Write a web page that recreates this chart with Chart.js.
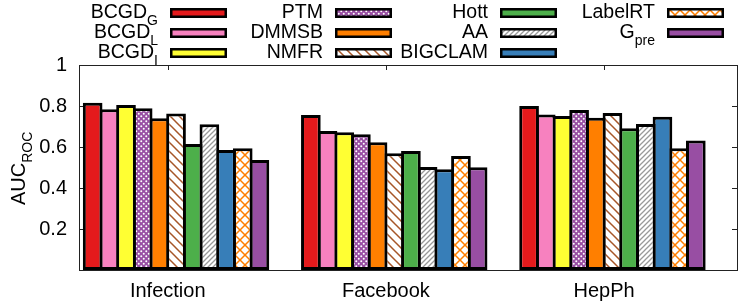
<!DOCTYPE html>
<html>
<head>
<meta charset="utf-8">
<script src="https://cdn.jsdelivr.net/npm/chart.js@4.4.0/dist/chart.umd.min.js"></script>
<style>
  html, body { margin: 0; padding: 0; background: #fff; }
</style>
</head>
<body>
<canvas id="aucChart" width="747" height="307"></canvas>
<script>
const categories = ['Infection', 'Facebook', 'HepPh'];
const seriesNames = ['BCGD_G', 'BCGD_L', 'BCGD_I', 'PTM', 'DMMSB', 'NMFR', 'Hott', 'AA', 'BIGCLAM', 'LabelRT', 'G_pre'];

const bcgdG   = [0.816, 0.756, 0.800];
const bcgdL   = [0.784, 0.678, 0.759];
const bcgdI   = [0.805, 0.672, 0.751];
const ptm     = [0.789, 0.662, 0.780];
const dmmsb   = [0.740, 0.623, 0.743];
const nmfr    = [0.764, 0.569, 0.766];
const hott    = [0.615, 0.580, 0.691];
const aa      = [0.711, 0.503, 0.712];
const bigclam = [0.585, 0.491, 0.748];
const labelRT = [0.594, 0.556, 0.594];
const gPre    = [0.537, 0.501, 0.632];

const yTicks = [0, 0.2, 0.4, 0.6, 0.8, 1];
const yTitle = 'AUC_ROC';

const FONT = '"Liberation Sans", Arial, sans-serif';

function makePattern(size, draw) {
    const c = document.createElement('canvas');
    c.width = size;
    c.height = size;
    const g = c.getContext('2d');
    draw(g, size);
    return g.createPattern(c, 'repeat');
}

function hatch(g, s, dir) {
    g.beginPath();
    if (dir === 'back') {
        g.moveTo(-1, -1); g.lineTo(s + 1, s + 1);
        g.moveTo(s - 1, -1); g.lineTo(s + 1, 1);
        g.moveTo(-1, s - 1); g.lineTo(1, s + 1);
    } else {
        g.moveTo(-1, s + 1); g.lineTo(s + 1, -1);
        g.moveTo(-1, 1); g.lineTo(1, -1);
        g.moveTo(s - 1, s + 1); g.lineTo(s + 1, s - 1);
    }
    g.stroke();
}

const ptmFill = makePattern(5, (g, s) => {
    g.fillStyle = '#984ea3';
    g.fillRect(0, 0, s, s);
    g.fillStyle = '#fff';
    g.beginPath(); g.arc(1.25, 1.25, 1.0, 0, Math.PI * 2); g.fill();
    g.beginPath(); g.arc(3.75, 3.75, 1.0, 0, Math.PI * 2); g.fill();
});
const nmfrFill = makePattern(9, (g, s) => {
    g.fillStyle = '#fff';
    g.fillRect(0, 0, s, s);
    g.strokeStyle = '#a65628';
    g.lineWidth = 1.5;
    hatch(g, s, 'back');
});
const aaFill = makePattern(5, (g, s) => {
    g.fillStyle = '#fff';
    g.fillRect(0, 0, s, s);
    g.strokeStyle = '#999999';
    g.lineWidth = 1.3;
    hatch(g, s, 'fwd');
});
const labelFill = makePattern(10, (g, s) => {
    g.fillStyle = '#fff';
    g.fillRect(0, 0, s, s);
    g.strokeStyle = '#ff7f00';
    g.lineWidth = 1.5;
    hatch(g, s, 'back');
    hatch(g, s, 'fwd');
});

const seriesValues = [bcgdG, bcgdL, bcgdI, ptm, dmmsb, nmfr, hott, aa, bigclam, labelRT, gPre];
const seriesFills = ['#e41a1c', '#f781bf', '#ffff33', ptmFill, '#ff7f00', nmfrFill,
                     '#4daf4a', aaFill, '#377eb8', labelFill, '#984ea3'];

// empty first slot so the category tick sits half a bar left of the group, as in gnuplot
const datasets = [{
    label: '',
    data: categories.map((c, i) => ({ x: i, y: null })),
    backgroundColor: 'rgba(0,0,0,0)',
    borderWidth: 0
}];
seriesValues.forEach((vals, k) => {
    datasets.push({
        label: seriesNames[k],
        data: vals.map((v, i) => ({ x: i, y: v })),
        backgroundColor: seriesFills[k]
    });
});

function drawSubText(ctx, text, x, y, size, subSize, align) {
    const parts = text.split('_');
    ctx.font = size + 'px ' + FONT;
    const w1 = ctx.measureText(parts[0]).width;
    ctx.font = subSize + 'px ' + FONT;
    const w2 = parts[1] ? ctx.measureText(parts[1]).width : 0;
    let x0 = align === 'right' ? x - w1 - w2 : x;
    ctx.textAlign = 'left';
    ctx.textBaseline = 'alphabetic';
    ctx.font = size + 'px ' + FONT;
    ctx.fillText(parts[0], x0, y);
    if (parts[1]) {
        ctx.font = subSize + 'px ' + FONT;
        ctx.fillText(parts[1], x0 + w1, y + 7);
    }
}

const legendPlugin = {
    id: 'gnuLegend',
    afterDraw(chart) {
        const ctx = chart.ctx;
        const textRight = [158, 323, 488, 655];
        const baselines = [18, 38, 58];
        const items = chart.data.datasets.slice(1);
        ctx.save();
        items.forEach((ds, k) => {
            const col = Math.floor(k / 3);
            const row = k % 3;
            const tx = textRight[col];
            const by = baselines[row];
            ctx.fillStyle = '#000';
            drawSubText(ctx, ds.label, tx, by, 19.5, 14, 'right');
            const bx = tx + 12;
            ctx.fillStyle = ds.backgroundColor;
            ctx.fillRect(bx, by - 10, 57, 10);
            ctx.lineWidth = 2.5;
            ctx.strokeStyle = '#000';
            ctx.strokeRect(bx + 1.25, by - 8.75, 54.5, 7.5);
        });
        ctx.restore();
    }
};

const framePlugin = {
    id: 'frame',
    beforeDatasetsDraw(chart) {
        const { ctx, chartArea: a, scales } = chart;
        ctx.save();
        ctx.strokeStyle = '#222';
        ctx.lineWidth = 1;
        ctx.beginPath();
        yTicks.forEach(v => {
            const y = Math.round(scales.y.getPixelForValue(v)) + 0.5;
            ctx.moveTo(a.left, y); ctx.lineTo(a.left + 5, y);
            ctx.moveTo(a.right, y); ctx.lineTo(a.right - 5, y);
        });
        categories.forEach((c, i) => {
            const x = Math.round(scales.x.getPixelForValue(i)) + 0.5;
            ctx.moveTo(x, a.top); ctx.lineTo(x, a.top + 5);
            ctx.moveTo(x, a.bottom); ctx.lineTo(x, a.bottom - 5);
        });
        ctx.stroke();
        ctx.restore();
    },
    afterDatasetsDraw(chart) {
        const { ctx, chartArea: a } = chart;
        ctx.save();
        ctx.strokeStyle = '#222';
        ctx.lineWidth = 1;
        ctx.strokeRect(Math.round(a.left) + 0.5, Math.round(a.top) + 0.5,
                       Math.round(a.right - a.left), Math.round(a.bottom - a.top));
        ctx.restore();
    },
    afterDraw(chart) {
        const ctx = chart.ctx;
        ctx.save();
        ctx.translate(25, 205);
        ctx.rotate(-Math.PI / 2);
        ctx.fillStyle = '#000';
        drawSubText(ctx, yTitle, 0, 0, 20, 14, 'left');
        ctx.restore();
    }
};

Chart.defaults.font.family = FONT;
Chart.defaults.font.size = 20;
Chart.defaults.color = '#000';

const aucChart = new Chart(document.getElementById('aucChart').getContext('2d'), {
    type: 'bar',
    data: { datasets: datasets },
    options: {
        responsive: false,
        animation: false,
        devicePixelRatio: 1,
        layout: { padding: { top: 65, right: 10, left: 0, bottom: 0 } },
        datasets: {
            bar: {
                categoryPercentage: 0.917,
                barPercentage: 1.18,
                borderColor: '#000',
                borderWidth: 3,
                borderSkipped: false,
                inflateAmount: 0
            }
        },
        plugins: {
            legend: { display: false },
            tooltip: { enabled: false }
        },
        scales: {
            x: {
                type: 'linear',
                offset: false,
                min: -0.4065,
                max: 2.609,
                grid: { display: false, drawTicks: false, offset: false },
                border: { display: false },
                afterBuildTicks: axis => { axis.ticks = categories.map((c, i) => ({ value: i })); },
                afterFit: axis => { axis.height = 37; },
                ticks: {
                    autoSkip: false,
                    maxRotation: 0,
                    padding: 9,
                    callback: value => categories[value]
                }
            },
            y: {
                min: 0,
                max: 1,
                grid: { display: false, drawTicks: false },
                border: { display: false },
                afterBuildTicks: axis => { axis.ticks = yTicks.map(v => ({ value: v })); },
                afterFit: axis => { axis.width = 79; },
                ticks: {
                    padding: 12,
                    callback: value => value === 0 ? '' : String(value)
                }
            }
        }
    },
    plugins: [legendPlugin, framePlugin]
});
</script>
</body>
</html>
